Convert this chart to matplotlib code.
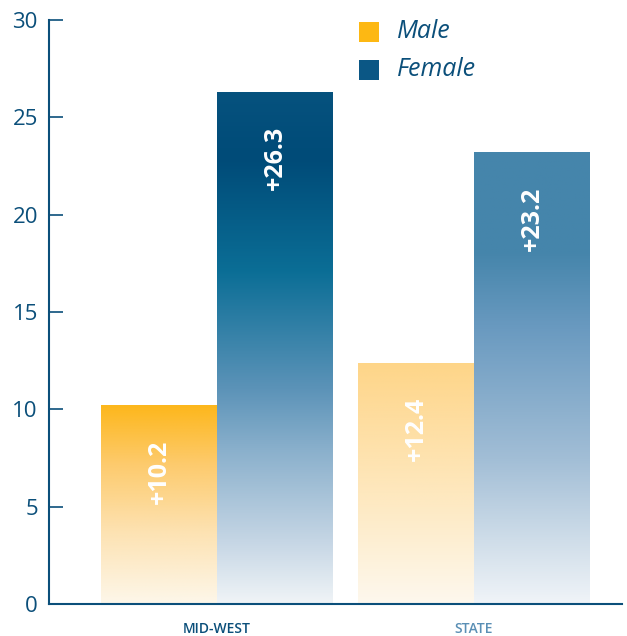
import numpy as np
import matplotlib
matplotlib.use("Agg")
import matplotlib.pyplot as plt
from matplotlib.colors import LinearSegmentedColormap
from matplotlib.patches import Rectangle

# データ
regions = ["MID-WEST", "STATE"]
male_values = [10.2, 12.4]
female_values = [26.3, 23.2]
series_names = ["Male", "Female"]
y_ticks = [0, 5, 10, 15, 20, 25, 30]

NAVY = "#0b4f7a"
LIGHT_NAVY = "#5a8fb5"

# 各棒のグラデーション（0=下端, 1=上端）
grad_midwest_male = [(0.0, "#fdf7ea"), (0.35, "#fde3b4"), (0.7, "#fdcb6e"), (1.0, "#fdb71c")]
grad_midwest_female = [(0.0, "#f0f4f7"), (0.125, "#c4d5e4"), (0.30, "#8ab0cc"),
                       (0.42, "#5c93b8"), (0.65, "#0b6e96"), (0.87, "#004b78"),
                       (1.0, "#06527e")]
grad_state_male = [(0.0, "#fdf8ee"), (0.4, "#feeac4"), (1.0, "#fed588")]
grad_state_female = [(0.0, "#f0f4f8"), (0.14, "#cfdde9"), (0.32, "#a2bed6"),
                     (0.61, "#6a9ac0"), (0.78, "#4585ab"), (1.0, "#4585ab")]


def gradient_bar(ax, x, width, height, stops):
    """縦方向のグラデーションで棒を描く。"""
    cmap = LinearSegmentedColormap.from_list("bar", stops)
    grad = np.linspace(0, 1, 256).reshape(-1, 1)
    im = ax.imshow(grad, cmap=cmap, origin="lower", aspect="auto",
                   extent=(x - width / 2, x + width / 2, 0, height), zorder=2)
    rect = Rectangle((x - width / 2, 0), width, height, transform=ax.transData,
                     facecolor="none", edgecolor="none")
    ax.add_patch(rect)
    im.set_clip_path(rect)


fig = plt.figure(figsize=(6.27, 6.36), dpi=100)
ax = fig.add_axes([49 / 627, 32 / 636, 573 / 627, 584 / 636])

bar_w = 116 / 257
x = np.arange(len(regions))

gradient_bar(ax, x[0] - bar_w / 2, bar_w, male_values[0], grad_midwest_male)
gradient_bar(ax, x[0] + bar_w / 2, bar_w, female_values[0], grad_midwest_female)
gradient_bar(ax, x[1] - bar_w / 2, bar_w, male_values[1], grad_state_male)
gradient_bar(ax, x[1] + bar_w / 2, bar_w, female_values[1], grad_state_female)

# 棒の中の値ラベル
for i in range(len(regions)):
    for xpos, val in [(x[i] - bar_w / 2, male_values[i]), (x[i] + bar_w / 2, female_values[i])]:
        ax.text(xpos, val - 1.75, f"+{val}", rotation=90, ha="center", va="top",
                color="white", fontsize=18, fontweight="bold", family="Open Sans",
                zorder=3)

ax.set_xlim(-168 / 257, 405 / 257)
ax.set_ylim(0, 30)

for side in ["top", "right"]:
    ax.spines[side].set_visible(False)
ax.spines["left"].set_color(NAVY)
ax.spines["bottom"].set_color(NAVY)
ax.spines["left"].set_linewidth(1.5)
ax.spines["bottom"].set_linewidth(1.5)

ax.set_yticks(y_ticks)
ax.set_yticklabels([str(t) for t in y_ticks], family="Open Sans", fontsize=16, color=NAVY)
ax.tick_params(axis="y", direction="in", length=10, width=1.2, color=NAVY, pad=8)
ax.set_xticks([])

# 地域名
ax.text(x[0], -0.95, regions[0], ha="center", va="top", fontsize=10, color=NAVY,
        family="Open Sans", fontweight="semibold")
ax.text(x[1], -0.95, regions[1], ha="center", va="top", fontsize=10, color=LIGHT_NAVY,
        family="Open Sans", fontweight="semibold")

# 凡例
legend_colors = ["#fdb813", "#0b5785"]
for k, (name, c) in enumerate(zip(series_names, legend_colors)):
    ypx = 32 + 38 * k
    fig.patches.append(Rectangle(((369 - 10) / 627, (636 - ypx - 10) / 636), 20 / 627, 20 / 636,
                                 transform=fig.transFigure, facecolor=c, edgecolor="none"))
    fig.text(397 / 627, (636 - ypx) / 636, name, ha="left", va="center", fontsize=18,
             style="italic", color=NAVY, family="Open Sans")

fig.savefig("out.png", dpi=100)
